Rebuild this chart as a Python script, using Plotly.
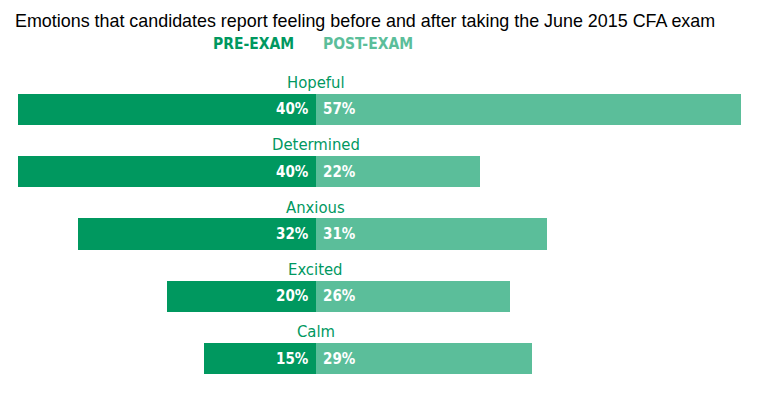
import plotly.graph_objects as go

emotions = ["Hopeful", "Determined", "Anxious", "Excited", "Calm"]
pre_exam = [40, 40, 32, 20, 15]
post_exam = [57, 22, 31, 26, 29]

PRE_COLOR = "#00985F"
POST_COLOR = "#5BBE9A"
COND = "DejaVu Sans Condensed, Liberation Sans Narrow, Arial Narrow, sans-serif"

W, H = 750, 385  # page body has an 8px margin

ys = list(range(len(emotions)))

fig = go.Figure()
fig.add_trace(go.Bar(
    y=ys, x=[-v for v in pre_exam], orientation="h", width=0.5,
    marker=dict(color=PRE_COLOR, line=dict(width=0)), name="PRE-EXAM",
    hoverinfo="skip", showlegend=False,
))
fig.add_trace(go.Bar(
    y=ys, x=post_exam, orientation="h", width=0.5,
    marker=dict(color=POST_COLOR, line=dict(width=0)), name="POST-EXAM",
    hoverinfo="skip", showlegend=False,
))

annotations = []
for i, (name, a, b) in enumerate(zip(emotions, pre_exam, post_exam)):
    annotations.append(dict(x=0, y=i - 0.43, xref="x", yref="y", text=name,
                            showarrow=False, xanchor="center", yanchor="middle",
                            font=dict(family=COND, size=16.5, color=PRE_COLOR)))
    annotations.append(dict(x=0, y=i, xref="x", yref="y", text=f"<b>{a}%</b>",
                            showarrow=False, xanchor="right", yanchor="middle", xshift=-5,
                            font=dict(family=COND, size=15, color="white")))
    annotations.append(dict(x=0, y=i, xref="x", yref="y", text=f"<b>{b}%</b>",
                            showarrow=False, xanchor="left", yanchor="middle", xshift=5,
                            font=dict(family=COND, size=15, color="white")))

annotations.append(dict(x=288 / W, y=1.109, xref="paper", yref="paper", text="<b>PRE-EXAM</b>",
                        showarrow=False, xanchor="right", yanchor="middle",
                        font=dict(family=COND, size=15.5, color=PRE_COLOR)))
annotations.append(dict(x=313 / W, y=1.109, xref="paper", yref="paper", text="<b>POST-EXAM</b>",
                        showarrow=False, xanchor="left", yanchor="middle",
                        font=dict(family=COND, size=15.5, color=POST_COLOR)))

fig.update_layout(
    width=W, height=H,
    margin=dict(l=0, r=0, t=70, b=3),
    paper_bgcolor="white", plot_bgcolor="white",
    barmode="overlay", bargap=0,
    title=dict(text="Emotions that candidates report feeling before and after taking the June 2015 CFA exam",
               x=7 / W, xanchor="left", xref="container",
               y=1 - 13 / H, yanchor="middle", yref="container",
               font=dict(family="Liberation Sans, Arial, sans-serif", size=17.9, color="black")),
    xaxis=dict(range=[-41.34, 59.33], visible=False, fixedrange=True),
    yaxis=dict(range=[4.5, -0.5], visible=False, fixedrange=True),
    annotations=annotations,
    showlegend=False,
)

fig.write_html("out.html")
